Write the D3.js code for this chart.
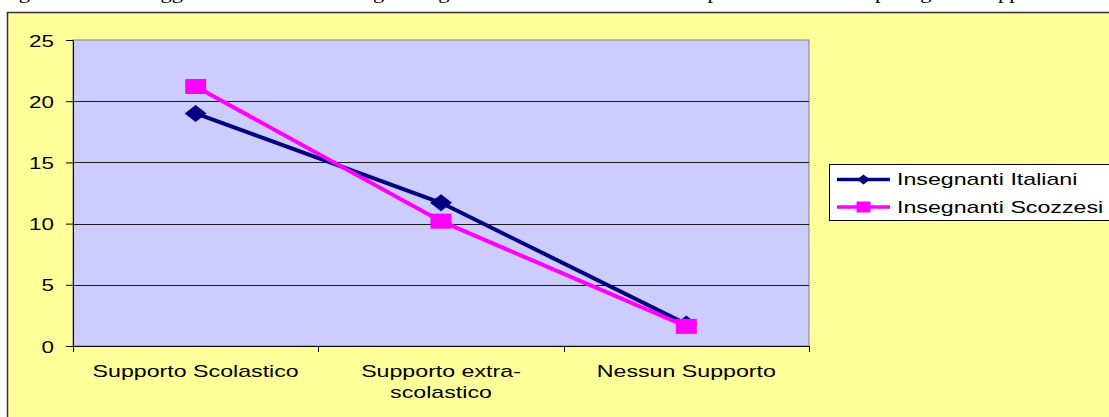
<!DOCTYPE html>
<html>
<head>
<meta charset="utf-8">
<script src="https://cdn.jsdelivr.net/npm/d3@7"></script>
<style>
  html, body { margin: 0; padding: 0; background: #ffffff; overflow: hidden; }
  svg { display: block; }
  text { font-family: "Liberation Sans", Arial, sans-serif; fill: #000; }
</style>
</head>
<body>
<svg id="chart" width="1109" height="417"></svg>
<script>
// Chart data
const categories = ["Supporto Scolastico", "Supporto extra-scolastico", "Nessun Supporto"];
const categoryLines = [["Supporto Scolastico"], ["Supporto extra-", "scolastico"], ["Nessun Supporto"]];
const seriesNames = ["Insegnanti Italiani", "Insegnanti Scozzesi"];
const italiani = [19.0, 11.7, 1.8];
const scozzesi = [21.2, 10.2, 1.6];
const yTicks = [0, 5, 10, 15, 20, 25];
const caption = "Figura 6: tutti i suggerimenti formulati dagli insegnanti italiani e scozzesi sul tipo di aiuto offerto per ogni sviluppo";

const W = 1109, H = 417;
const SX = 1.4;            // horizontal text stretch
const SXL = 1.45;          // stretch for category and legend labels
const svg = d3.select("#chart");

const plot = { left: 73, right: 809, top: 40, bottom: 346 };
const x = d3.scaleBand().domain(categories).range([plot.left, plot.right]);
const y = d3.scaleLinear().domain([0, 25]).range([plot.bottom, plot.top]);
const cx = c => x(c) + x.bandwidth() / 2;

// caption line above the chart frame (only its lowest part lies in view)
svg.append("text")
  .attr("x", 0).attr("y", 0)
  .attr("transform", `translate(0,-1) scale(${SX},1)`)
  .style("font-family", "'Liberation Serif', 'Times New Roman', serif")
  .style("font-size", "16px")
  .text(caption);

// chart area
svg.append("rect")
  .attr("x", 7.5).attr("y", 12.5)
  .attr("width", W + 10).attr("height", H + 10)
  .attr("fill", "#FFFF99")
  .attr("stroke", "#333").attr("stroke-width", 1.5);

// plot area
svg.append("rect")
  .attr("x", plot.left).attr("y", plot.top)
  .attr("width", plot.right - plot.left).attr("height", plot.bottom - plot.top)
  .attr("fill", "#CCCCFF")
  .attr("stroke", "#808080").attr("stroke-width", 1);

// horizontal gridlines
svg.append("g").selectAll("line")
  .data(yTicks.filter(d => d > 0 && d < 25))
  .join("line")
  .attr("x1", plot.left).attr("x2", plot.right)
  .attr("y1", d => Math.round(y(d)) + 0.5).attr("y2", d => Math.round(y(d)) + 0.5)
  .attr("stroke", "#1a1a1a").attr("stroke-width", 1);

// y axis
const yAxis = svg.append("g")
  .attr("transform", `translate(${plot.left},0)`)
  .call(d3.axisLeft(y).tickValues(yTicks).tickSize(7).tickSizeOuter(0));
yAxis.select(".domain").attr("stroke", "#000");
yAxis.selectAll(".tick line").attr("stroke", "#000");
yAxis.selectAll(".tick text")
  .attr("x", null).attr("dy", null)
  .attr("transform", `translate(-19,6) scale(${SX},1)`)
  .attr("text-anchor", "end")
  .style("font-size", "16px");

// x axis line and boundary ticks
svg.append("line")
  .attr("x1", plot.left).attr("x2", plot.right)
  .attr("y1", plot.bottom + 0.5).attr("y2", plot.bottom + 0.5)
  .attr("stroke", "#000");
const bounds = categories.map(c => x(c)).concat([x(categories[categories.length - 1]) + x.bandwidth()]);
svg.append("g").selectAll("line")
  .data(bounds)
  .join("line")
  .attr("x1", d => Math.round(d) + 0.5).attr("x2", d => Math.round(d) + 0.5)
  .attr("y1", plot.bottom).attr("y2", plot.bottom + 6)
  .attr("stroke", "#000");

// category labels
const xl = svg.append("g").selectAll("text")
  .data(categories)
  .join("text")
  .attr("transform", d => `translate(${cx(d)},377) scale(${SXL},1)`)
  .attr("text-anchor", "middle")
  .style("font-size", "16px");
xl.each(function (d, i) {
  d3.select(this).selectAll("tspan")
    .data(categoryLines[i])
    .join("tspan")
    .attr("x", 0)
    .attr("dy", (t, j) => j === 0 ? 0 : 21)
    .text(t => t);
});

// markers
const diamond = (w, h) => `M0,${-h / 2}L${w / 2},0L0,${h / 2}L${-w / 2},0Z`;
const square = (w, h) => `M${-w / 2},${-h / 2}h${w}v${h}h${-w}Z`;

const series = [
  { name: seriesNames[0], values: italiani, color: "#000080", shape: diamond, mw: 22, mh: 17, lw: 13, lh: 10 },
  { name: seriesNames[1], values: scozzesi, color: "#FF00FF", shape: square, mw: 21, mh: 15, lw: 14, lh: 11 }
];

const line = d3.line().x((d, i) => cx(categories[i])).y(d => y(d));

series.forEach(s => {
  svg.append("path")
    .datum(s.values)
    .attr("d", line)
    .attr("fill", "none")
    .attr("stroke", s.color)
    .attr("stroke-width", 4)
    .attr("stroke-linejoin", "round");
  svg.append("g").selectAll("path")
    .data(s.values)
    .join("path")
    .attr("transform", (d, i) => `translate(${cx(categories[i])},${y(d)})`)
    .attr("d", s.shape(s.mw, s.mh))
    .attr("fill", s.color);
});

// legend
const lg = svg.append("g");
lg.append("rect")
  .attr("x", 829.5).attr("y", 164.5)
  .attr("width", 300).attr("height", 56)
  .attr("fill", "#ffffff").attr("stroke", "#000").attr("stroke-width", 1);
series.forEach((s, i) => {
  const yy = 179.5 + i * 27.5;
  lg.append("line")
    .attr("x1", 837).attr("x2", 890)
    .attr("y1", yy).attr("y2", yy)
    .attr("stroke", s.color).attr("stroke-width", 3.5);
  lg.append("path")
    .attr("transform", `translate(863.5,${yy})`)
    .attr("d", s.shape(s.lw, s.lh))
    .attr("fill", s.color);
  lg.append("text")
    .attr("transform", `translate(897,${yy + 5.5}) scale(${SXL},1)`)
    .style("font-size", "16px")
    .text(s.name);
});
</script>
</body>
</html>
